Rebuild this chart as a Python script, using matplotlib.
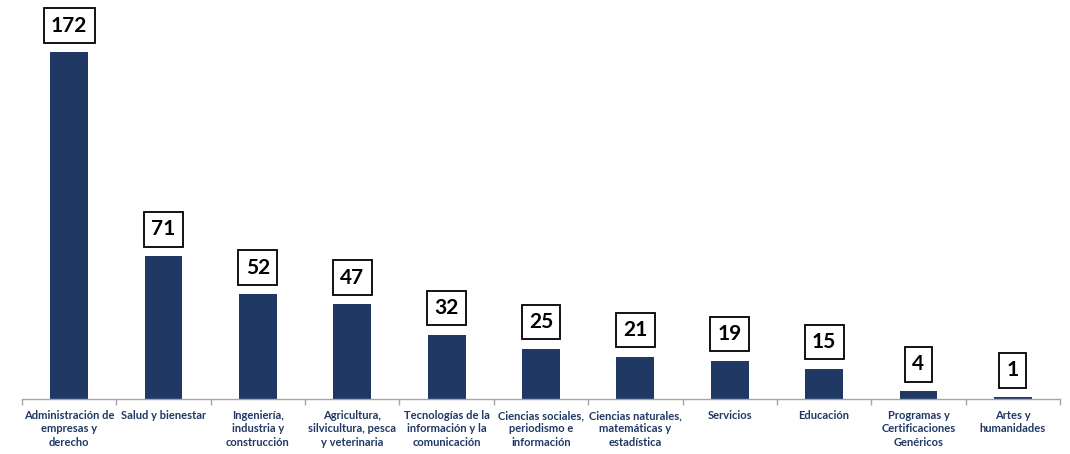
import matplotlib
matplotlib.use("Agg")
import matplotlib.pyplot as plt
import numpy as np

categories = [
    "Administración de\nempresas y\nderecho",
    "Salud y bienestar",
    "Ingeniería,\nindustria y\nconstrucción",
    "Agricultura,\nsilvicultura, pesca\ny veterinaria",
    "Tecnologías de la\ninformación y la\ncomunicación",
    "Ciencias sociales,\nperiodismo e\ninformación",
    "Ciencias naturales,\nmatemáticas y\nestadística",
    "Servicios",
    "Educación",
    "Programas y\nCertificaciones\nGenéricos",
    "Artes y\nhumanidades",
]
values = [172, 71, 52, 47, 32, 25, 21, 19, 15, 4, 1]

bar_color = "#203864"
label_color = "#1F3864"

fig = plt.figure(figsize=(10.7, 4.54), dpi=100)
ax = fig.add_axes([22/1070, 55/454, 1038/1070, 399/454])

x = np.arange(len(values))
ax.bar(x, values, width=0.4, color=bar_color, zorder=2)
ax.set_xlim(-0.5, len(values) - 0.5)
ax.set_ylim(0, 198)

for s in ["top", "right", "left"]:
    ax.spines[s].set_visible(False)
ax.spines["bottom"].set_color("#A6A6A6")
ax.spines["bottom"].set_linewidth(1.0)
ax.set_yticks([])

ax.set_xticks(np.arange(-0.5, len(values) + 0.5, 1.0))
ax.set_xticklabels([])
ax.tick_params(axis="x", length=4, color="#A6A6A6", width=1.0)
ax.set_xticks(x, minor=True)
ax.set_xticklabels(categories, minor=True, fontsize=8, fontweight="bold",
                   color=label_color, family="Lato", linespacing=1.25, va="top")
ax.tick_params(axis="x", which="minor", length=0, pad=8)

for xi, v in zip(x, values):
    ax.annotate(str(v), xy=(xi, v), xytext=(0, 12), textcoords="offset points",
                ha="center", va="bottom", fontsize=15, fontweight="bold",
                family="Lato", color="black",
                bbox=dict(boxstyle="square,pad=0.35", fc="white", ec="black", lw=1.3))

fig.savefig("out.png", dpi=100)
